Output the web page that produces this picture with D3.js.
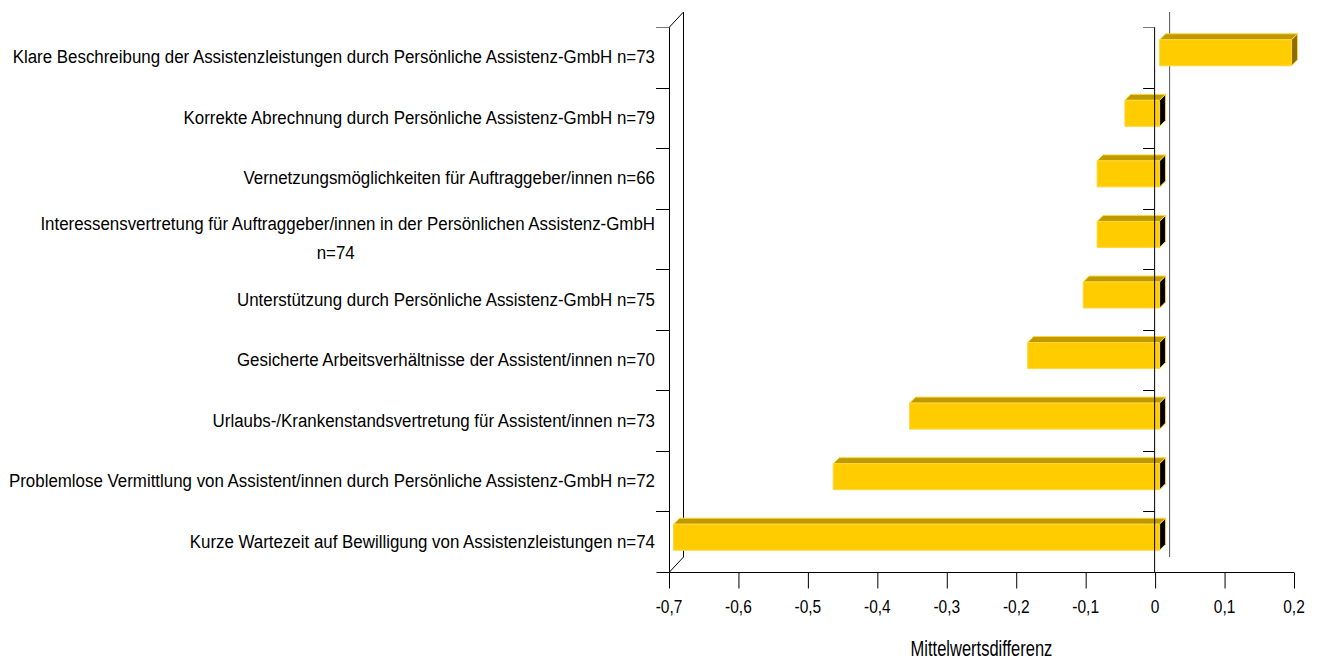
<!DOCTYPE html>
<html>
<head>
<meta charset="utf-8">
<script src="https://d3js.org/d3.v7.min.js"></script>
<style>
  html, body { margin: 0; padding: 0; background: #ffffff; }
  svg { display: block; }
  text { font-family: "Liberation Sans", Arial, sans-serif; fill: #000; }
</style>
</head>
<body>
<svg id="chart" width="1322" height="659"></svg>
<script>
// Items (top to bottom) and mean differences
const categories = [
  "Klare Beschreibung der Assistenzleistungen durch Persönliche Assistenz-GmbH n=73",
  "Korrekte Abrechnung durch Persönliche Assistenz-GmbH n=79",
  "Vernetzungsmöglichkeiten für Auftraggeber/innen n=66",
  "Interessensvertretung für Auftraggeber/innen in der Persönlichen Assistenz-GmbH\nn=74",
  "Unterstützung durch Persönliche Assistenz-GmbH n=75",
  "Gesicherte Arbeitsverhältnisse der Assistent/innen n=70",
  "Urlaubs-/Krankenstandsvertretung für Assistent/innen n=73",
  "Problemlose Vermittlung von Assistent/innen durch Persönliche Assistenz-GmbH n=72",
  "Kurze Wartezeit auf Bewilligung von Assistenzleistungen n=74"
];
const values = [0.19, -0.05, -0.09, -0.09, -0.11, -0.19, -0.36, -0.47, -0.70];
const xTicks = [-0.7, -0.6, -0.5, -0.4, -0.3, -0.2, -0.1, 0, 0.1, 0.2];
const xTitle = "Mittelwertsdifferenz";

const svg = d3.select("#chart");

// Front plane of the 3D plot area
const pLeft = 669, pRight = 1294, pTop = 27, pBottom = 572;
const depth = 14;                // wall depth (px, drawn as +x / -y)
const barZ0 = 4.5, barZ1 = 10.5; // bar front / back depth
const barH = 26;

const x = d3.scaleLinear().domain([-0.7, 0.2]).range([pLeft, pRight]);
const y = d3.scaleBand().domain(categories).range([pTop, pBottom]).padding(0);
const bw = y.bandwidth();
const fmt = v => {
  const s = d3.format(".1f")(v).replace(".", ",").replace("\u2212", "-");
  return (s === "0,0" || s === "-0,0") ? "0" : s;
};

function drawText(g, str, tx, ty, anchor, size, sy) {
  return g.append("text")
    .attr("transform", `translate(${tx},${ty}) scale(1,${sy})`)
    .attr("text-anchor", anchor)
    .attr("font-size", size)
    .text(str);
}

// Back wall: left edge, top/bottom diagonals
const wall = svg.append("g").attr("fill", "none").attr("stroke", "#000").attr("stroke-width", 1);
wall.append("line").attr("x1", pLeft + 0.5).attr("y1", pTop).attr("x2", pLeft + depth + 0.5).attr("y2", pTop - depth - 1);
wall.append("line").attr("x1", pLeft + depth + 0.5).attr("y1", pTop - depth - 1).attr("x2", pLeft + depth + 0.5).attr("y2", pBottom - depth - 1);
wall.append("line").attr("x1", pLeft + depth + 0.5).attr("y1", pBottom - depth - 1).attr("x2", pLeft + 0.5).attr("y2", pBottom);

// Zero line on the back wall
svg.append("line")
  .attr("x1", x(0) + depth + 0.5).attr("x2", x(0) + depth + 0.5)
  .attr("y1", pTop - depth - 1).attr("y2", pBottom - depth - 1)
  .attr("stroke", "#555").attr("stroke-width", 1);

// 3D bars
const bars = svg.append("g");
categories.forEach((c, i) => {
  const v = values[i];
  const x0 = x(Math.min(0, v)), x1 = x(Math.max(0, v));
  const yc = y(c) + bw / 2;
  const fTop = yc - barH / 2 - barZ0;
  const d = barZ1 - barZ0;
  const g = bars.append("g").attr("stroke", "#FFD83A").attr("stroke-width", 1).attr("stroke-linejoin", "round");
  // top face
  g.append("path")
    .attr("d", `M${x0 + barZ0},${fTop} L${x0 + barZ1},${fTop - d} L${x1 + barZ1},${fTop - d} L${x1 + barZ0},${fTop} Z`)
    .attr("fill", "#BF9900");
  // front face
  g.append("rect")
    .attr("x", x0 + barZ0).attr("y", fTop)
    .attr("width", x1 - x0).attr("height", barH)
    .attr("fill", "#FFCC00");
  // end face at the right
  g.append("path")
    .attr("d", `M${x1 + barZ0},${fTop} L${x1 + barZ1},${fTop - d} L${x1 + barZ1},${fTop - d + barH} L${x1 + barZ0},${fTop + barH} Z`)
    .attr("fill", v < 0 ? "#000000" : "#8C6E00");
});

// Left front edge with category ticks
const axes = svg.append("g").attr("stroke", "#000").attr("stroke-width", 1);
axes.append("line").attr("x1", pLeft + 0.5).attr("x2", pLeft + 0.5).attr("y1", pTop).attr("y2", pBottom);
// Category axis at zero
axes.append("line").attr("x1", x(0) - 0.5).attr("x2", x(0) - 0.5).attr("y1", pTop).attr("y2", pBottom);
const bounds = categories.map(c => y(c)).concat([pBottom]);
bounds.forEach((b, i) => {
  const col = (i === 0 || i === bounds.length - 1) ? "#777" : "#000";
  axes.append("line").attr("x1", pLeft - 13).attr("x2", pLeft + 0.5)
    .attr("y1", Math.round(b) + 0.5).attr("y2", Math.round(b) + 0.5).attr("stroke", col);
  axes.append("line").attr("x1", x(0) - 12).attr("x2", x(0) - 0.5)
    .attr("y1", Math.round(b) + 0.5).attr("y2", Math.round(b) + 0.5).attr("stroke", col);
});

// Value axis
const xAxis = svg.append("g")
  .attr("transform", `translate(0,${pBottom + 0.5})`)
  .call(d3.axisBottom(x).tickValues(xTicks).tickSize(16).tickSizeOuter(0).tickFormat(""));
xAxis.select(".domain").attr("stroke", "#000").attr("d", `M${pLeft - 12},0H${pRight}`);
xAxis.selectAll(".tick line").attr("stroke", "#000");
xAxis.selectAll(".tick text").remove();

const tl = svg.append("g");
xTicks.forEach(t => drawText(tl, fmt(t), x(t), 613, "middle", 15.5, 1.15));

// Axis title
drawText(svg, xTitle, (pLeft + pRight) / 2, 656, "middle", 16.5, 1.3);

// Category labels (right aligned; wrapped lines centred under the text box)
const lab = svg.append("g");
const lineGap = 29;
const labelX = 655;
const labelSize = 16.9, labelSY = 1.09;
categories.forEach(c => {
  const lines = c.split("\n");
  const yc = y(c) + bw / 2;
  let firstWidth = 0;
  lines.forEach((ln, k) => {
    const ty = yc + 6 + (k - (lines.length - 1) / 2) * lineGap;
    if (k === 0) {
      const t = drawText(lab, ln, labelX, ty, "end", labelSize, labelSY);
      firstWidth = t.node().getComputedTextLength();
    } else {
      drawText(lab, ln, labelX - firstWidth / 2 - 12, ty, "middle", labelSize, labelSY);
    }
  });
});
</script>
</body>
</html>
